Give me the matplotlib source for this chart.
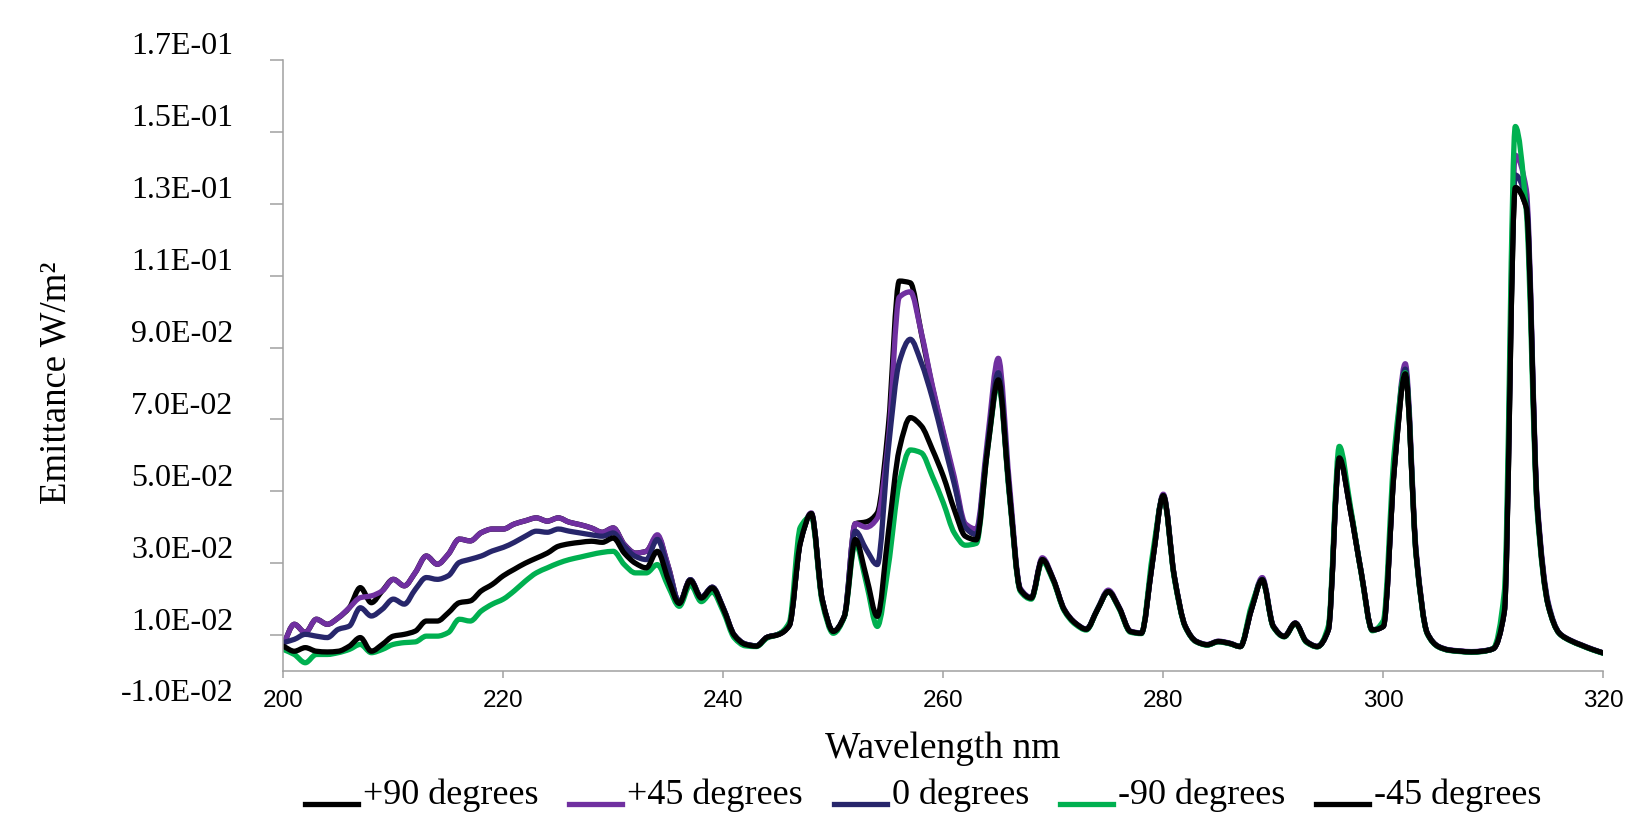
import numpy as np
import matplotlib
matplotlib.use("Agg")
import matplotlib.pyplot as plt
from matplotlib.transforms import blended_transform_factory, ScaledTranslation
from matplotlib.legend_handler import HandlerLine2D
from matplotlib.lines import Line2D
from matplotlib.path import Path
from matplotlib.patches import PathPatch

# wavelength grid, 1 nm steps
wavelength = np.arange(200, 321)

plus90 = [
    0.0074, 0.0130, 0.0107, 0.0144, 0.0130, 0.0148, 0.0176, 0.0232, 0.0190, 0.0223,
    0.0255, 0.0237, 0.0274, 0.0320, 0.0297, 0.0325, 0.0367, 0.0362, 0.0385, 0.0395,
    0.0395, 0.0409, 0.0418, 0.0426, 0.0417, 0.0426, 0.0414, 0.0407, 0.0398, 0.0386,
    0.0398, 0.0352, 0.0328, 0.0333, 0.0375, 0.0290, 0.0190, 0.0254, 0.0205, 0.0233,
    0.0175, 0.0100, 0.0075, 0.0070, 0.0094, 0.0102, 0.0127, 0.0358, 0.0438, 0.0198,
    0.0110, 0.0152, 0.0410, 0.0415, 0.0440, 0.0680, 0.1085, 0.1080, 0.0940, 0.0790,
    0.0660, 0.0530, 0.0400, 0.0380, 0.0620, 0.0810, 0.0500, 0.0226, 0.0203, 0.0310,
    0.0254, 0.0170, 0.0133, 0.0116, 0.0170, 0.0221, 0.0175, 0.0110, 0.0105, 0.0300,
    0.0488, 0.0263, 0.0124, 0.0082, 0.0073, 0.0082, 0.0077, 0.0068, 0.0170, 0.0254,
    0.0124, 0.0096, 0.0133, 0.0082, 0.0068, 0.0114, 0.0593, 0.0448, 0.0273, 0.0114,
    0.0124, 0.0562, 0.0827, 0.0320, 0.0105, 0.0068, 0.0058, 0.0055, 0.0053, 0.0055,
    0.0062, 0.0165, 0.1345, 0.1290, 0.0455, 0.0182, 0.0105, 0.0085, 0.0072, 0.0060,
    0.0050]

plus45 = [
    0.0074, 0.0130, 0.0107, 0.0144, 0.0130, 0.0148, 0.0176, 0.0204, 0.0209, 0.0223,
    0.0255, 0.0237, 0.0274, 0.0320, 0.0297, 0.0325, 0.0367, 0.0362, 0.0385, 0.0395,
    0.0395, 0.0409, 0.0418, 0.0426, 0.0417, 0.0426, 0.0414, 0.0407, 0.0398, 0.0386,
    0.0398, 0.0352, 0.0328, 0.0333, 0.0379, 0.0291, 0.0190, 0.0254, 0.0205, 0.0233,
    0.0175, 0.0100, 0.0075, 0.0070, 0.0094, 0.0102, 0.0128, 0.0360, 0.0440, 0.0198,
    0.0110, 0.0152, 0.0410, 0.0400, 0.0425, 0.0640, 0.1040, 0.1055, 0.0942, 0.0795,
    0.0665, 0.0540, 0.0410, 0.0395, 0.0640, 0.0870, 0.0525, 0.0230, 0.0205, 0.0315,
    0.0256, 0.0172, 0.0134, 0.0117, 0.0172, 0.0225, 0.0177, 0.0111, 0.0106, 0.0302,
    0.0492, 0.0265, 0.0125, 0.0083, 0.0074, 0.0083, 0.0078, 0.0069, 0.0172, 0.0260,
    0.0126, 0.0097, 0.0134, 0.0083, 0.0069, 0.0115, 0.0598, 0.0452, 0.0275, 0.0115,
    0.0125, 0.0570, 0.0855, 0.0330, 0.0106, 0.0069, 0.0059, 0.0056, 0.0054, 0.0056,
    0.0063, 0.0168, 0.1435, 0.1340, 0.0470, 0.0190, 0.0106, 0.0086, 0.0073, 0.0061,
    0.0050]

zero = [
    0.0079, 0.0088, 0.0102, 0.0097, 0.0093, 0.0116, 0.0125, 0.0176, 0.0153, 0.0172,
    0.0200, 0.0186, 0.0227, 0.0260, 0.0255, 0.0265, 0.0302, 0.0311, 0.0320, 0.0334,
    0.0344, 0.0358, 0.0375, 0.0389, 0.0386, 0.0395, 0.0389, 0.0384, 0.0379, 0.0375,
    0.0384, 0.0347, 0.0319, 0.0310, 0.0366, 0.0282, 0.0190, 0.0254, 0.0205, 0.0233,
    0.0175, 0.0100, 0.0075, 0.0070, 0.0094, 0.0102, 0.0127, 0.0358, 0.0438, 0.0198,
    0.0110, 0.0152, 0.0389, 0.0338, 0.0296, 0.0617, 0.0860, 0.0923, 0.0858, 0.0760,
    0.0640, 0.0520, 0.0400, 0.0380, 0.0620, 0.0830, 0.0500, 0.0227, 0.0203, 0.0310,
    0.0254, 0.0170, 0.0133, 0.0116, 0.0170, 0.0221, 0.0175, 0.0110, 0.0105, 0.0300,
    0.0488, 0.0263, 0.0124, 0.0082, 0.0073, 0.0082, 0.0077, 0.0068, 0.0170, 0.0255,
    0.0124, 0.0096, 0.0133, 0.0082, 0.0068, 0.0114, 0.0595, 0.0450, 0.0273, 0.0114,
    0.0124, 0.0565, 0.0840, 0.0322, 0.0105, 0.0068, 0.0058, 0.0055, 0.0053, 0.0055,
    0.0062, 0.0165, 0.1380, 0.1310, 0.0460, 0.0185, 0.0105, 0.0085, 0.0072, 0.0060,
    0.0050]

minus90 = [
    0.0060, 0.0046, 0.0023, 0.0046, 0.0046, 0.0051, 0.0060, 0.0074, 0.0051, 0.0060,
    0.0074, 0.0079, 0.0081, 0.0097, 0.0097, 0.0107, 0.0144, 0.0139, 0.0167, 0.0186,
    0.0200, 0.0223, 0.0250, 0.0273, 0.0287, 0.0300, 0.0310, 0.0317, 0.0324, 0.0330,
    0.0333, 0.0296, 0.0273, 0.0273, 0.0296, 0.0235, 0.0180, 0.0240, 0.0193, 0.0220,
    0.0165, 0.0092, 0.0070, 0.0068, 0.0092, 0.0102, 0.0135, 0.0400, 0.0430, 0.0190,
    0.0105, 0.0150, 0.0356, 0.0245, 0.0124, 0.0291, 0.0524, 0.0615, 0.0607, 0.0542,
    0.0468, 0.0384, 0.0350, 0.0355, 0.0610, 0.0800, 0.0490, 0.0222, 0.0200, 0.0305,
    0.0250, 0.0167, 0.0130, 0.0114, 0.0170, 0.0220, 0.0172, 0.0108, 0.0104, 0.0320,
    0.0485, 0.0258, 0.0122, 0.0081, 0.0072, 0.0081, 0.0076, 0.0068, 0.0180, 0.0252,
    0.0122, 0.0095, 0.0132, 0.0080, 0.0067, 0.0125, 0.0625, 0.0460, 0.0270, 0.0112,
    0.0140, 0.0610, 0.0830, 0.0315, 0.0103, 0.0067, 0.0057, 0.0054, 0.0052, 0.0054,
    0.0063, 0.0220, 0.1515, 0.1280, 0.0440, 0.0180, 0.0104, 0.0084, 0.0071, 0.0059,
    0.0049]

minus45 = [
    0.0069, 0.0055, 0.0065, 0.0055, 0.0053, 0.0055, 0.0069, 0.0093, 0.0055, 0.0074,
    0.0097, 0.0102, 0.0111, 0.0139, 0.0139, 0.0162, 0.0190, 0.0195, 0.0223, 0.0241,
    0.0265, 0.0283, 0.0300, 0.0314, 0.0328, 0.0347, 0.0354, 0.0358, 0.0361, 0.0358,
    0.0370, 0.0328, 0.0300, 0.0287, 0.0333, 0.0254, 0.0188, 0.0252, 0.0203, 0.0231,
    0.0173, 0.0099, 0.0074, 0.0069, 0.0094, 0.0101, 0.0126, 0.0356, 0.0438, 0.0198,
    0.0110, 0.0152, 0.0366, 0.0263, 0.0152, 0.0384, 0.0617, 0.0705, 0.0682, 0.0617,
    0.0542, 0.0449, 0.0375, 0.0365, 0.0610, 0.0810, 0.0500, 0.0226, 0.0203, 0.0310,
    0.0254, 0.0170, 0.0133, 0.0116, 0.0170, 0.0221, 0.0175, 0.0110, 0.0105, 0.0300,
    0.0488, 0.0263, 0.0124, 0.0082, 0.0073, 0.0082, 0.0077, 0.0068, 0.0170, 0.0254,
    0.0124, 0.0096, 0.0133, 0.0082, 0.0068, 0.0114, 0.0593, 0.0448, 0.0273, 0.0114,
    0.0124, 0.0562, 0.0827, 0.0320, 0.0105, 0.0068, 0.0058, 0.0055, 0.0053, 0.0055,
    0.0062, 0.0165, 0.1345, 0.1290, 0.0455, 0.0182, 0.0105, 0.0085, 0.0072, 0.0060,
    0.0050]

series_labels = ["+90 degrees", "+45 degrees", "0 degrees", "-90 degrees", "-45 degrees"]
series_colors = ["#000000", "#7030a0", "#27266b", "#00b050", "#000000"]

xticks = [200, 220, 240, 260, 280, 300, 320]
ytick_values = [-0.01, 0.01, 0.03, 0.05, 0.07, 0.09, 0.11, 0.13, 0.15, 0.17]
ytick_labels = ["-1.0E-02", "1.0E-02", "3.0E-02", "5.0E-02", "7.0E-02",
                "9.0E-02", "1.1E-01", "1.3E-01", "1.5E-01", "1.7E-01"]

serif = "Liberation Serif"
sans = "Liberation Sans"
axis_grey = "#a0a0a0"
LW = 3.8


def smooth_path(x, y):
    # smoothed line drawn as cubic bezier segments through the data points,
    # with monotone (no overshoot) tangents
    x = np.asarray(x, float)
    y = np.asarray(y, float)
    h = np.diff(x)
    d = np.diff(y) / h
    m = np.zeros_like(y)
    for i in range(1, len(y) - 1):
        if d[i - 1] * d[i] > 0:
            m[i] = 2 * d[i - 1] * d[i] / (d[i - 1] + d[i])
    m[0], m[-1] = d[0], d[-1]
    verts = [(x[0], y[0])]
    codes = [Path.MOVETO]
    for i in range(len(x) - 1):
        verts += [(x[i] + h[i] / 3, y[i] + m[i] * h[i] / 3),
                  (x[i + 1] - h[i] / 3, y[i + 1] - m[i + 1] * h[i] / 3),
                  (x[i + 1], y[i + 1])]
        codes += [Path.CURVE4] * 3
    return Path(verts, codes)


W, H = 1643, 814
fig = plt.figure(figsize=(W / 100, H / 100), dpi=100)
ax = fig.add_axes([283.3 / W, 1 - 671 / H, 1320 / W, 611 / H])

handles = []
for ys, lab, col in zip([plus90, plus45, zero, minus90, minus45], series_labels, series_colors):
    ax.add_patch(PathPatch(smooth_path(wavelength, ys), fill=False, edgecolor=col,
                           lw=LW, joinstyle="round", capstyle="round"))
    handles.append(Line2D([], [], color=col, lw=LW, label=lab))

ax.set_xlim(200, 320)
ax.set_ylim(0, 0.17)

for s in ["top", "right"]:
    ax.spines[s].set_visible(False)
for s in ["left", "bottom"]:
    ax.spines[s].set_color(axis_grey)
    ax.spines[s].set_linewidth(1.1)

ax.set_xticks(xticks)
ax.set_xticklabels([str(v) for v in xticks], fontfamily=sans, fontsize=17.5)
ax.tick_params(axis="x", direction="out", length=5, width=1.1, color=axis_grey, pad=9)

ax.set_yticks([v for v in ytick_values if v > 0])
ax.set_yticklabels([])
ax.tick_params(axis="y", direction="out", length=9.4, width=1.1, color=axis_grey)

# y labels sit a little above their ticks, as in the original
trans = blended_transform_factory(ax.transAxes, ax.transData) + \
    ScaledTranslation(-0.50, 0.13, fig.dpi_scale_trans)
for v, lab in zip(ytick_values, ytick_labels):
    ax.text(0, v, lab, transform=trans, ha="right", va="center",
            fontfamily=serif, fontsize=23, clip_on=False)

fig.text(56 / W, 1 - 383 / H, "Emittance W/m\u00b2", rotation=90, ha="center", va="center",
         fontfamily=serif, fontsize=26.5)
fig.text(943 / W, 1 - 758 / H, "Wavelength nm", ha="center", va="baseline",
         fontfamily=serif, fontsize=27)


class UnderlineHandler(HandlerLine2D):
    # legend keys drawn on the text baseline
    def create_artists(self, legend, orig_handle, xdescent, ydescent, width, height,
                       fontsize, trans):
        arts = super().create_artists(legend, orig_handle, xdescent, ydescent, width,
                                      height, fontsize, trans)
        for a in arts:
            if isinstance(a, Line2D):
                a.set_ydata(np.full(len(a.get_xdata()), 0.0))
        return arts


leg = fig.legend(handles=handles, loc="lower left", bbox_to_anchor=(305 / W, 2 / H),
                 ncol=5, frameon=False, borderpad=0, borderaxespad=0,
                 handlelength=1.47, handletextpad=0.14, columnspacing=0.85,
                 prop={"family": serif, "size": 26},
                 handler_map={Line2D: UnderlineHandler()})

fig.savefig("out.png", dpi=100)
